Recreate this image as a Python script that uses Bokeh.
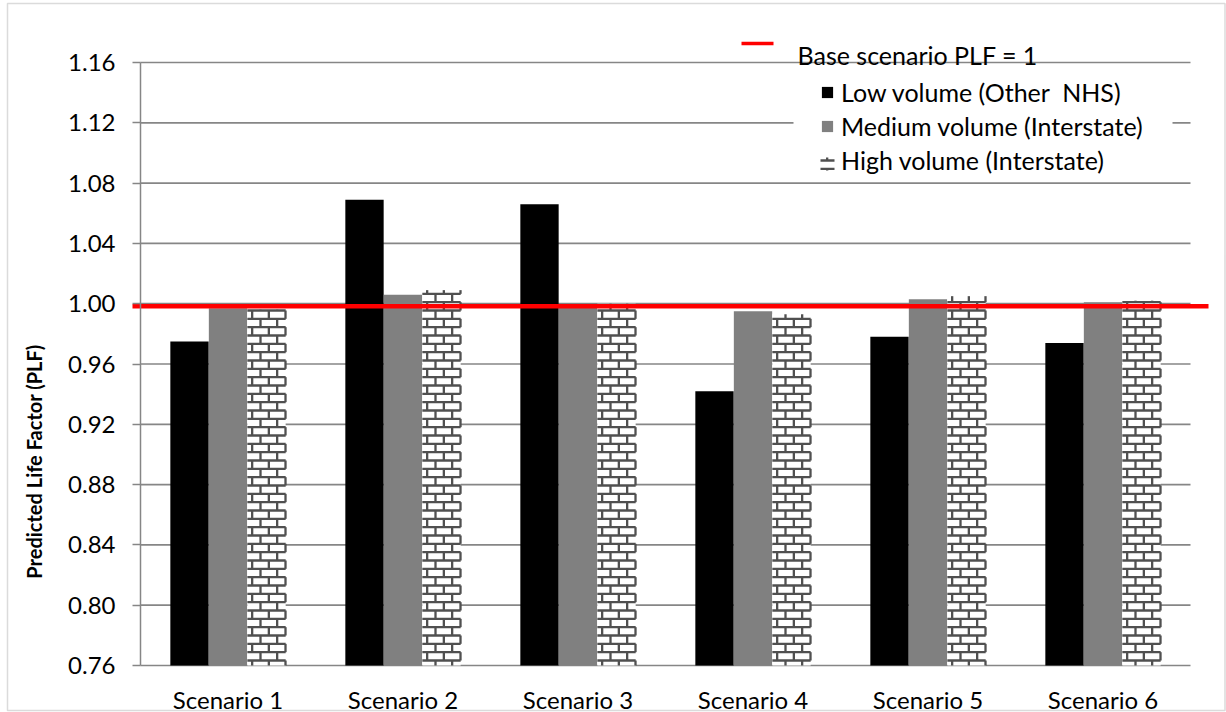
import math
import numpy as np
from bokeh.plotting import figure
from bokeh.models import (Range1d, FixedTicker, NumeralTickFormatter, Legend,
                          LegendItem, BoxAnnotation, Label, ColumnDataSource)
from bokeh.transform import dodge
from bokeh.embed import file_html
from bokeh.resources import INLINE

# ---------------- data ----------------
categories = ["Scenario 1", "Scenario 2", "Scenario 3", "Scenario 4", "Scenario 5", "Scenario 6"]
low_volume = [0.975, 1.069, 1.066, 0.942, 0.978, 0.974]
medium_volume = [0.997, 1.006, 1.000, 0.995, 1.003, 1.001]
high_volume = [0.996, 1.009, 1.000, 0.993, 1.005, 1.002]
base_plf = 0.9983
y_ticks = [0.76, 0.80, 0.84, 0.88, 0.92, 0.96, 1.00, 1.04, 1.08, 1.12, 1.16]
series_labels = ["Low volume (Other  NHS)", "Medium volume (Interstate)", "High volume (Interstate)"]
base_label = "Base scenario PLF = 1"
y_title = "Predicted Life Factor (PLF)"

# ---------------- layout (page pixels) ----------------
W, H = 1226, 712
FONT = "Lato"
GRID = "#868686"
HATCH = "#505050"
n = len(categories)
centers = list(range(1, n + 1))
CAT_PX = 175.0
FRAME_L, FRAME_T, FRAME_B = 140.0, 62.0, 665.0
PX_PER_Y = (FRAME_B - FRAME_T) / (y_ticks[-1] - y_ticks[0])


def px_x(px):
    return 0.5 + (px - FRAME_L) / CAT_PX


def px_y(py):
    return y_ticks[0] + (FRAME_B - py) / PX_PER_Y


def x_px(x):
    return FRAME_L + (x - 0.5) * CAT_PX


def y_px(y):
    return FRAME_B - (y - y_ticks[0]) * PX_PER_Y


p = figure(width=W, height=H,
           x_range=Range1d(px_x(0), px_x(W)),
           y_range=Range1d(px_y(H), px_y(0)),
           output_backend="svg", toolbar_location=None, title=None,
           min_border_left=0, min_border_right=0, min_border_top=0, min_border_bottom=0)
p.outline_line_color = None
p.background_fill_color = "white"
p.border_fill_color = "white"
p.xgrid.visible = False
p.ygrid.visible = False

# gridlines (span the category area only)
p.segment(x0=0.5, x1=n + 0.5, y0=y_ticks, y1=y_ticks, line_color=GRID, line_width=1.7)

# white legend background (hides the gridline behind the legend)
p.quad(left=[px_x(793)], right=[px_x(1172)], top=[px_y(70)], bottom=[px_y(176)],
       fill_color="white", line_color=None)

# y axis, fixed at the left edge of the category area
ya = p.yaxis[0]
ya.fixed_location = 0.5
ya.bounds = (y_ticks[0], y_ticks[-1])
ya.ticker = FixedTicker(ticks=y_ticks)
ya.formatter = NumeralTickFormatter(format="0.00")
ya.major_tick_out = 8
ya.major_tick_in = 0
ya.minor_tick_line_color = None
ya.major_tick_line_color = GRID
ya.major_tick_line_width = 1.5
ya.axis_line_color = GRID
ya.axis_line_width = 1.5
ya.major_label_standoff = 17
ya.major_label_text_font = FONT
ya.major_label_text_font_size = "24px"
ya.major_label_text_color = "black"

# x axis, fixed at the bottom of the value range
xa = p.xaxis[0]
xa.fixed_location = y_ticks[0]
xa.ticker = FixedTicker(ticks=centers)
xa.major_label_overrides = {c: lab for c, lab in zip(centers, categories)}
xa.axis_line_color = None
xa.major_tick_line_color = None
xa.minor_tick_line_color = None
xa.major_tick_out = 0
xa.major_label_standoff = 19
xa.major_label_text_font = FONT
xa.major_label_text_font_size = "24px"
xa.major_label_text_color = "black"

# bars
src = ColumnDataSource(dict(x=centers, low=low_volume, med=medium_volume, high=high_volume))
BW = 0.219
OFF = 0.22
r_low = p.vbar(x=dodge("x", -OFF), top="low", bottom=y_ticks[0], width=BW, source=src,
               fill_color="#000000", line_color=None)
r_med = p.vbar(x=dodge("x", 0), top="med", bottom=y_ticks[0], width=BW, source=src,
               fill_color="#808080", line_color=None)
r_high = p.vbar(x=dodge("x", OFF), top="high", bottom=y_ticks[0], width=BW, source=src,
                fill_color="white", line_color=None)

# brick fill pattern for the high-volume bars (pattern anchored to the page)
PITCH = 25.0 / 3.0
HX0, HY0 = 260.0, 310.0


def brick_segments(l, r, t, b):
    segs = []
    k0 = math.floor((t - HY0) / PITCH)
    k1 = math.ceil((b - HY0) / PITCH)
    for k in range(k0, k1 + 1):
        yk = HY0 + k * PITCH
        if t <= yk <= b:
            segs.append((l, yk, r, yk))
        ya_, yb_ = max(yk, t), min(yk + PITCH, b)
        if yb_ <= ya_:
            continue
        phase = HX0 + (PITCH if k % 2 == 0 else 0.0)
        m0 = math.ceil((l - phase) / (2 * PITCH))
        xj = phase + m0 * 2 * PITCH
        while xj <= r:
            segs.append((xj, ya_, xj, yb_))
            xj += 2 * PITCH
    return segs


all_segs = []
for c, v in zip(centers, high_volume):
    all_segs += brick_segments(x_px(c + OFF - BW / 2), x_px(c + OFF + BW / 2),
                               y_px(v), y_px(y_ticks[0]))
# legend swatch for the hatched series
all_segs += brick_segments(820, 834, 157, 170)
p.segment(x0=[px_x(s[0]) for s in all_segs], y0=[px_y(s[1]) for s in all_segs],
          x1=[px_x(s[2]) for s in all_segs], y1=[px_y(s[3]) for s in all_segs],
          line_color=HATCH, line_width=2.3, line_cap="butt")

# base scenario line
p.segment(x0=[px_x(132)], x1=[px_x(1208)], y0=[base_plf], y1=[base_plf],
          line_color="#ff0000", line_width=4.5)
# its legend swatch
p.segment(x0=[px_x(741)], x1=[px_x(773)], y0=[px_y(43)], y1=[px_y(43)],
          line_color="#ff0000", line_width=3.5)
p.add_layout(Label(x=px_x(797), y=px_y(54), text=base_label, text_align="left",
                   text_baseline="alphabetic", text_font=FONT, text_font_size="25px",
                   text_color="black"))

r_high_key = p.vbar(x=[], top=[], width=BW, fill_alpha=0, line_alpha=0)
leg = Legend(items=[LegendItem(label=series_labels[0], renderers=[r_low]),
                    LegendItem(label=series_labels[1], renderers=[r_med]),
                    LegendItem(label=series_labels[2], renderers=[r_high_key])],
             location=(820, 537), glyph_width=14, glyph_height=14, label_standoff=7,
             padding=0, margin=0, spacing=4, background_fill_alpha=0,
             border_line_color=None, label_text_font=FONT, label_text_font_size="25px",
             label_text_color="black")
p.add_layout(leg)

# y axis title
p.add_layout(Label(x=px_x(33), y=px_y(461), text=y_title, angle=np.pi / 2,
                   text_align="center", text_baseline="middle",
                   text_font=FONT, text_font_style="bold", text_font_size="20px",
                   text_color="black"))

# chart border
p.add_layout(BoxAnnotation(left=px_x(7), right=px_x(1224.5), top=px_y(3), bottom=px_y(710),
                           fill_alpha=0, line_color="#878787", line_width=1.5))

open("out.html", "w").write(file_html(p, INLINE))
